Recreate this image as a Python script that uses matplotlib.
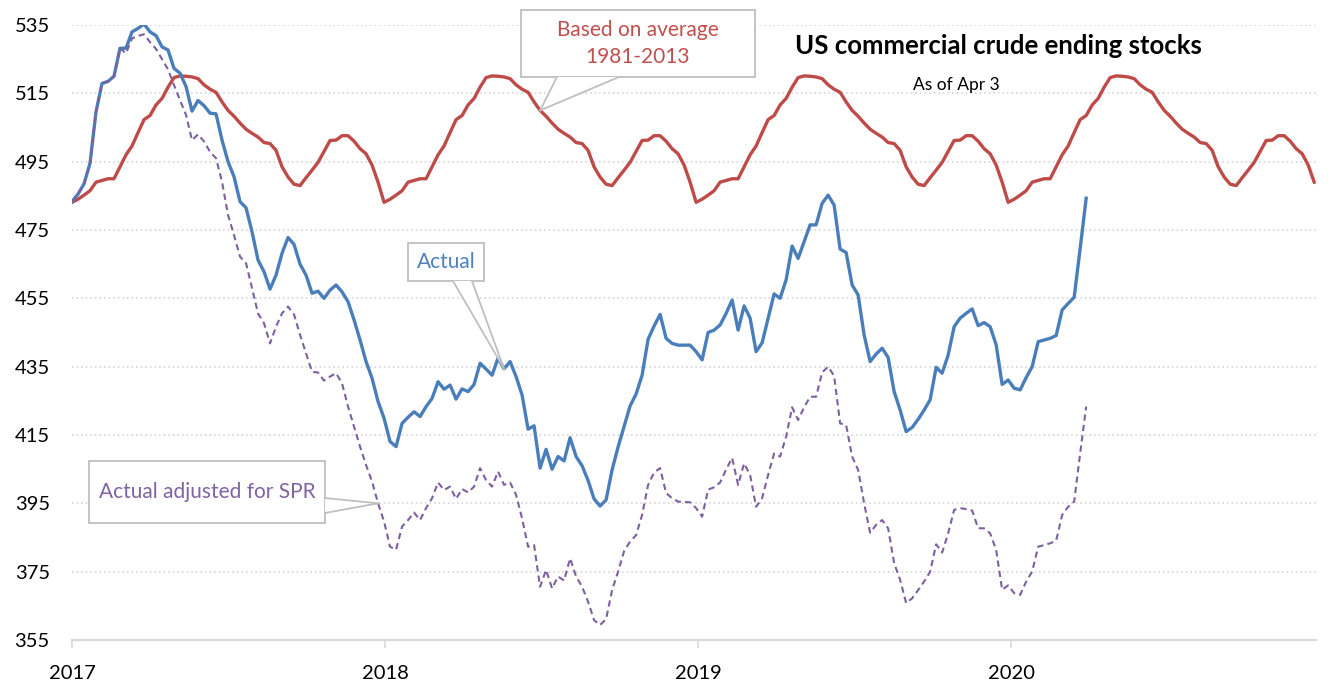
import numpy as np
import matplotlib
matplotlib.use('Agg')
import matplotlib.pyplot as plt
from matplotlib.patches import Rectangle, Polygon
from matplotlib.lines import Line2D

plt.rcParams['font.family'] = ['Lato', 'DejaVu Sans']

# weekly data, week 0 = first week of 2017
year_labels = ['2017', '2018', '2019', '2020']
weeks_per_year = 52.18

# seasonal average profile (one year, repeated for every year)
avg_profile = [483.1, 484.0, 485.2, 486.5, 489.0, 489.5, 490.0, 490.0, 493.5, 497.0,
               499.6, 503.5, 507.3, 508.5, 511.6, 513.5, 516.8, 519.6, 520.1, 520.0,
               519.8, 519.3, 517.5, 516.2, 515.3, 512.5, 510.0, 508.3, 506.3, 504.5,
               503.3, 502.2, 500.6, 500.3, 498.3, 493.5, 490.5, 488.4, 488.0, 490.3,
               492.5, 494.8, 498.0, 501.2, 501.3, 502.6, 502.6, 501.0, 498.8, 497.3,
               494.0, 489.0]
average = np.tile(avg_profile, 4)

actual = [483.3, 485.5, 488.5, 494.5, 509.6, 517.9, 518.5, 520.0, 528.2, 528.2,
          533.0, 534.0, 535.3, 533.0, 531.9, 528.6, 527.7, 522.3, 520.9, 517.0,
          509.8, 512.9, 511.4, 509.2, 509.0, 501.3, 495.0, 490.6, 483.3, 481.5,
          474.5, 466.2, 462.8, 457.7, 461.8, 468.2, 472.8, 470.8, 465.0, 461.8,
          456.5, 457.1, 455.0, 457.4, 458.9, 456.9, 454.0, 448.7, 442.8, 436.5,
          431.6, 424.8, 419.9, 413.1, 411.6, 418.4, 420.2, 421.8, 420.4, 423.3,
          425.7, 430.6, 428.4, 429.6, 425.5, 428.5, 427.7, 429.8, 436.0, 434.3,
          432.5, 437.5, 434.4, 436.5, 432.1, 426.7, 416.7, 417.7, 405.3, 410.8,
          405.0, 408.7, 407.4, 414.2, 408.7, 406.0, 401.7, 396.3, 394.2, 396.0,
          404.8, 411.5, 417.5, 423.5, 427.0, 432.5, 443.0, 446.9, 450.3, 443.3,
          441.8, 441.3, 441.3, 441.3, 439.4, 437.0, 445.0, 445.7, 447.2, 450.6,
          454.5, 445.7, 452.8, 449.2, 439.4, 442.0, 449.2, 456.3, 455.0, 460.4,
          470.3, 466.7, 471.6, 476.5, 476.5, 482.8, 485.2, 482.3, 469.4, 468.4,
          458.9, 456.0, 444.3, 436.5, 438.7, 440.4, 437.7, 427.7, 422.3, 416.0,
          417.2, 419.6, 422.3, 425.3, 434.8, 433.1, 438.4, 446.7, 449.2, 450.6,
          451.9, 447.0, 447.9, 446.7, 441.4, 429.8, 431.1, 428.7, 428.2, 431.8,
          435.0, 442.3, 442.8, 443.3, 444.1, 451.6, 453.5, 455.3, 469.6, 484.3]

adjusted = [483.3, 485.5, 488.5, 494.5, 509.6, 517.9, 518.5, 520.0, 528.2, 526.7,
            531.1, 531.8, 532.3, 530.0, 528.0, 525.0, 522.0, 517.4, 513.0, 508.7,
            501.3, 503.0, 500.9, 497.9, 496.0, 489.1, 479.4, 473.5, 467.2, 465.3,
            457.9, 450.6, 447.7, 441.8, 446.7, 450.6, 452.6, 450.3, 444.3, 438.9,
            433.5, 433.3, 430.9, 432.1, 433.1, 430.1, 423.3, 417.4, 411.6, 406.2,
            401.4, 395.0, 389.7, 382.3, 381.4, 388.2, 390.1, 392.3, 390.1, 393.6,
            396.5, 401.1, 398.9, 399.9, 396.3, 399.2, 398.2, 399.9, 405.3, 401.8,
            399.9, 404.3, 400.4, 401.1, 397.5, 390.6, 382.3, 382.8, 370.6, 375.5,
            370.1, 373.6, 372.4, 378.9, 373.6, 370.6, 366.2, 360.8, 359.4, 361.1,
            369.6, 375.0, 381.0, 383.8, 385.7, 391.6, 400.4, 404.0, 405.3, 398.0,
            396.5, 395.5, 395.4, 395.3, 393.6, 391.1, 399.0, 399.7, 401.1, 404.9,
            408.3, 400.4, 406.7, 403.3, 394.0, 396.5, 403.3, 409.6, 408.7, 414.5,
            423.1, 419.4, 423.1, 426.2, 426.2, 433.3, 435.0, 432.3, 418.4, 417.9,
            408.7, 404.8, 395.0, 386.4, 388.7, 390.1, 387.7, 377.5, 372.6, 365.8,
            367.2, 369.6, 372.1, 375.0, 383.0, 380.6, 386.2, 393.1, 393.6, 393.3,
            392.9, 387.7, 387.7, 386.2, 381.4, 369.7, 371.0, 368.7, 368.2, 372.1,
            375.0, 382.3, 382.8, 383.3, 384.1, 391.6, 394.0, 395.5, 409.6, 423.3]

y_ticks = list(range(355, 536, 20))

W, H = 1331, 685
fig = plt.figure(figsize=(W / 100, H / 100), dpi=100)
ax = fig.add_axes([72 / W, 1 - 640 / H, (1316 - 72) / W, (640 - 25) / H])

ax.plot(np.arange(len(average)), average, color='#BE4B48', lw=2.4, zorder=3)
ax.plot(np.arange(len(actual)), actual, color='#4A7EBB', lw=2.4, zorder=4)
ax.plot(np.arange(len(adjusted)), adjusted, color='#7D60A0', lw=1.5,
        dashes=(3, 2), zorder=4)

ax.set_xlim(0, 207.3)
ax.set_ylim(355, 535)
ax.set_yticks(y_ticks)
ax.set_yticklabels([str(v) for v in y_ticks], fontsize=14.5)
ax.set_xticks([i * weeks_per_year for i in range(len(year_labels))])
ax.set_xticklabels(year_labels, fontsize=14.5)
ax.tick_params(axis='y', length=0, pad=16)
ax.tick_params(axis='x', length=6, width=1.2, color='#D9D9D9', pad=12)
for g in y_ticks[1:]:
    ax.axhline(g, color='#D0D0D0', lw=1.1, ls=(0, (1, 2)), zorder=1)
for s in ['top', 'right', 'left']:
    ax.spines[s].set_visible(False)
ax.spines['bottom'].set_color('#D9D9D9')
ax.spines['bottom'].set_linewidth(1.6)

fig.text(998 / W, 1 - 46 / H, 'US commercial crude ending stocks', ha='center',
         va='center', fontsize=18.5, weight='bold')
fig.text(956 / W, 1 - 85 / H, 'As of Apr 3', ha='center', va='center', fontsize=12.5)


def fpos(px, py):
    return (px / W, 1 - py / H)


def callout(box, bases, tip, text, color, size):
    x0, y0, x1, y1 = box
    fig.add_artist(Rectangle(fpos(x0, y1), (x1 - x0) / W, (y1 - y0) / H,
                             transform=fig.transFigure, fc='white', ec='#BFBFBF',
                             lw=1.3, zorder=5))
    t = fig.transFigure.inverted().transform(ax.transData.transform(tip))
    b1 = fpos(*bases[0])
    b2 = fpos(*bases[1])
    fig.add_artist(Polygon([b1, t, b2], closed=True, transform=fig.transFigure,
                           fc='white', ec='none', zorder=6))
    for b in (b1, b2):
        fig.add_artist(Line2D([b[0], t[0]], [b[1], t[1]], transform=fig.transFigure,
                              color='#BFBFBF', lw=1.3, zorder=6))
    cx, cy = fpos((x0 + x1) / 2, (y0 + y1) / 2)
    fig.text(cx, cy, text, ha='center', va='center', color=color, fontsize=size,
             linespacing=1.45, zorder=7)


callout((521, 10, 755, 77), [(557, 77), (619, 77)], (78, average[78]),
        'Based on average\n1981-2013', '#C0504D', 15)
callout((408, 243, 484, 281), [(453, 281), (472, 281)], (72, actual[72]),
        'Actual', '#4F81BD', 15)
callout((89, 461, 325, 523), [(325, 498), (325, 513)], (51, adjusted[51]),
        'Actual adjusted for SPR', '#8064A2', 15)

fig.savefig('out.png', dpi=100)
